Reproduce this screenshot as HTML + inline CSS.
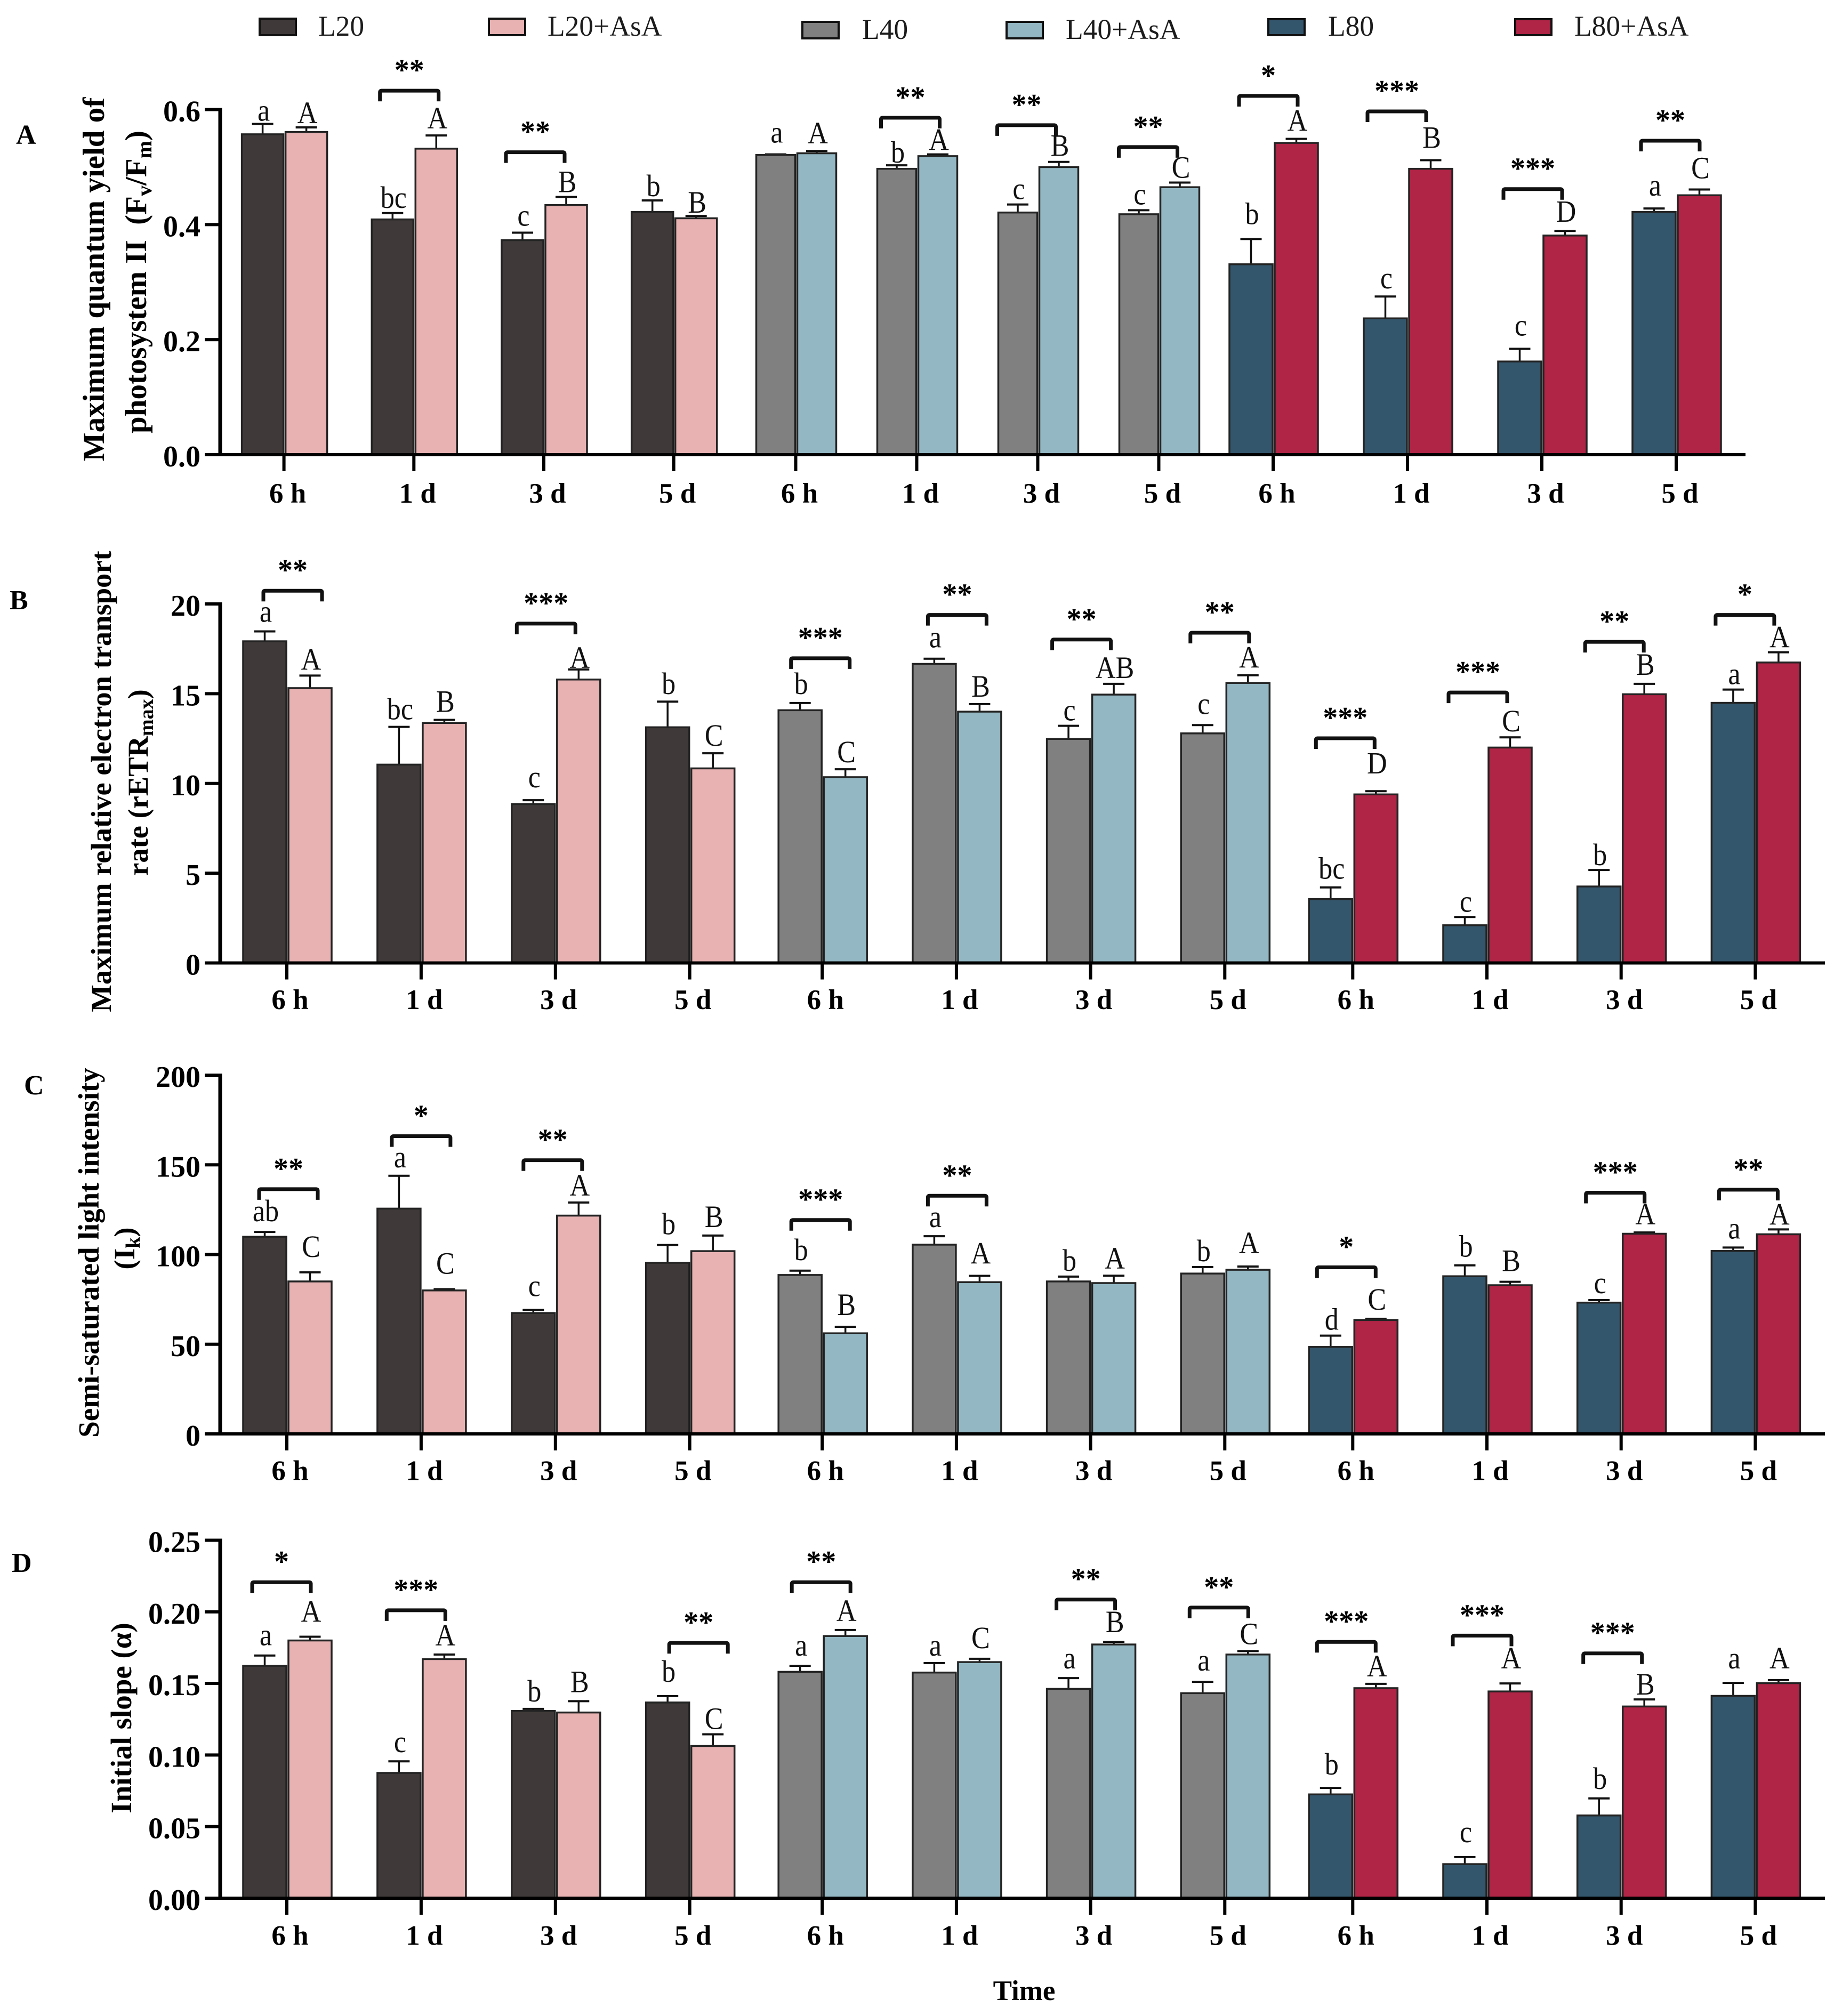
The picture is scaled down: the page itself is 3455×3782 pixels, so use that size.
<!DOCTYPE html>
<html lang="en">
<head>
<meta charset="utf-8">
<title>Photosynthetic parameters under light treatments with and without AsA</title>
<style>
  html, body { margin: 0; padding: 0; background: #fff; width: 3455px; height: 3782px; overflow: hidden; }
  svg { display: block; }
  text { font-family: "Liberation Serif", serif; fill: #000; }
  .b { font-weight: bold; }
  .title { font-weight: bold; text-anchor: middle; }
  .leg { font-size: 53.5px; fill: #1c1c1c; }
  .tick { font-weight: bold; font-size: 56px; text-anchor: end; }
  .cat { font-weight: bold; font-size: 53px; text-anchor: middle; }
  .let { font-size: 58px; text-anchor: middle; fill: #111; }
  .star { font-weight: bold; font-size: 56px; text-anchor: middle; }
</style>
</head>
<body>
<svg id="chart" xmlns="http://www.w3.org/2000/svg" width="3455" height="3782" viewBox="0 0 3455 3782">
  <rect x="0" y="0" width="3455" height="3782" fill="#ffffff"/>

  <g>
    <g>
      <rect x="487" y="35" width="68" height="31" fill="#3f3a39" stroke="#111" stroke-width="4"/>
      <text class="leg" x="597" y="67">L20</text>
    </g>
    <g>
      <rect x="917" y="35" width="68" height="31" fill="#e8b2b3" stroke="#111" stroke-width="4"/>
      <text class="leg" x="1027" y="67">L20+AsA</text>
    </g>
    <g>
      <rect x="1505" y="41" width="68" height="31" fill="#808080" stroke="#111" stroke-width="4"/>
      <text class="leg" x="1617" y="73">L40</text>
    </g>
    <g>
      <rect x="1888" y="41" width="68" height="31" fill="#93b8c4" stroke="#111" stroke-width="4"/>
      <text class="leg" x="1999" y="73">L40+AsA</text>
    </g>
    <g>
      <rect x="2379" y="36" width="68" height="30" fill="#34566c" stroke="#111" stroke-width="4"/>
      <text class="leg" x="2491" y="67">L80</text>
    </g>
    <g>
      <rect x="2842" y="36" width="68" height="30" fill="#b02446" stroke="#111" stroke-width="4"/>
      <text class="leg" x="2953" y="67">L80+AsA</text>
    </g>
  </g>

  <text class="b" font-size="52" x="30" y="270">A</text>
  <text class="b" font-size="52" x="18" y="1143">B</text>
  <text class="b" font-size="52" x="45" y="2053">C</text>
  <text class="b" font-size="52" x="22" y="2949">D</text>

  <text class="title" font-size="57" transform="translate(195 524) rotate(-90)">Maximum quantum yield of</text>
  <text class="title" font-size="57" transform="translate(274 529) rotate(-90)">photosystem II&#160;&#160;(F<tspan font-size="40" dy="10">v</tspan><tspan dy="-10">/F</tspan><tspan font-size="40" dy="10">m</tspan><tspan dy="-10">)</tspan></text>

  <text class="title" font-size="54.5" transform="translate(208 1466) rotate(-90)">Maximum relative electron transport</text>
  <text class="title" font-size="54.5" transform="translate(277 1468) rotate(-90)">rate (rETR<tspan font-size="38" dy="10">max</tspan><tspan dy="-10">)</tspan></text>

  <text class="title" font-size="55" transform="translate(185 2350) rotate(-90)">Semi-saturated light intensity</text>
  <text class="title" font-size="55" transform="translate(252 2342) rotate(-90)">(I<tspan font-size="38" dy="10">k</tspan><tspan dy="-10">)</tspan></text>

  <text class="title" font-size="55" transform="translate(246 3223) rotate(-90)">Initial slope (α)</text>

  <text class="title" font-size="53" x="1921" y="3752">Time</text>

  <g id="panels"></g>
</svg>

<script>
// ---------- shared categories ----------
const timeLabels = ['6 h', '1 d', '3 d', '5 d', '6 h', '1 d', '3 d', '5 d', '6 h', '1 d', '3 d', '5 d'];
const controlSeriesNames = ['L20', 'L20', 'L20', 'L20', 'L40', 'L40', 'L40', 'L40', 'L80', 'L80', 'L80', 'L80'];

// ---------- panel A: Fv/Fm ----------
const aTickLabels = ['0.0', '0.2', '0.4', '0.6'];
const aControl = [0.557, 0.409, 0.373, 0.422, 0.521, 0.497, 0.421, 0.418, 0.331, 0.237, 0.162, 0.422];
const aTreated = [0.561, 0.532, 0.434, 0.411, 0.524, 0.519, 0.500, 0.465, 0.542, 0.497, 0.381, 0.451];
const aControlErr = [0.018, 0.011, 0.013, 0.020, 0.001, 0.006, 0.014, 0.007, 0.044, 0.038, 0.022, 0.006];
const aTreatedErr = [0.008, 0.023, 0.014, 0.004, 0.004, 0.003, 0.009, 0.008, 0.007, 0.015, 0.008, 0.010];
const aControlLetters = ['a', 'bc', 'c', 'b', 'a', 'b', 'c', 'c', 'b', 'c', 'c', 'a'];
const aTreatedLetters = ['A', 'A', 'B', 'B', 'A', 'A', 'B', 'C', 'A', 'B', 'D', 'C'];
const aStars = [0, 2, 2, 0, 0, 2, 2, 2, 1, 3, 3, 2];
const aBracketLevels = [null, 0.636, 0.529, null, null, 0.589, 0.576, 0.538, 0.627, 0.600, 0.465, 0.549];

// ---------- panel B: rETRmax ----------
const bTickLabels = ['0', '5', '10', '15', '20'];
const bControl = [17.92, 11.05, 8.85, 13.13, 14.08, 16.66, 12.48, 12.79, 3.56, 2.10, 4.26, 14.49];
const bTreated = [15.31, 13.37, 15.79, 10.84, 10.35, 14.00, 14.95, 15.60, 9.39, 12.00, 14.97, 16.74];
const bControlErr = [0.55, 2.10, 0.22, 1.43, 0.40, 0.29, 0.73, 0.46, 0.65, 0.46, 0.92, 0.74];
const bTreatedErr = [0.70, 0.17, 0.56, 0.84, 0.44, 0.42, 0.60, 0.43, 0.18, 0.57, 0.58, 0.57];
const bControlLetters = ['a', 'bc', 'c', 'b', 'b', 'a', 'c', 'c', 'bc', 'c', 'b', 'a'];
const bTreatedLetters = ['A', 'B', 'A', 'C', 'C', 'B', 'AB', 'A', 'D', 'C', 'B', 'A'];
const bStars = [2, 0, 3, 0, 3, 2, 2, 2, 3, 3, 2, 1];
const bBracketLevels = [20.84, null, 19.01, null, 17.08, 19.49, 18.12, 18.50, 12.62, 15.17, 17.99, 19.49];

// ---------- panel C: Ik ----------
const cTickLabels = ['0', '50', '100', '150', '200'];
const cControl = [109.9, 125.6, 67.4, 95.4, 88.6, 105.5, 85.0, 89.4, 48.5, 87.9, 73.2, 102.0];
const cTreated = [85.0, 80.0, 121.7, 101.9, 56.1, 84.6, 84.1, 91.5, 63.5, 82.9, 111.6, 111.3];
const cControlErr = [2.7, 18.3, 1.7, 9.9, 2.4, 4.7, 2.7, 3.6, 6.3, 6.1, 1.4, 1.9];
const cTreatedErr = [5.1, 0.7, 7.3, 8.7, 3.6, 3.5, 4.1, 1.8, 0.7, 1.9, 0.7, 2.7];
const cControlLetters = ['ab', 'a', 'c', 'b', 'b', 'a', 'b', 'b', 'd', 'b', 'c', 'a'];
const cTreatedLetters = ['C', 'C', 'A', 'B', 'B', 'A', 'A', 'A', 'C', 'B', 'A', 'A'];
const cStars = [2, 1, 2, 0, 3, 2, 0, 0, 1, 0, 3, 2];
const cBracketLevels = [137.5, 167.0, 153.6, null, 120.3, 133.8, null, null, 93.9, null, 135.5, 137.2];

// ---------- panel D: initial slope ----------
const dTickLabels = ['0.00', '0.05', '0.10', '0.15', '0.20', '0.25'];
const dControl = [0.1623, 0.0875, 0.1308, 0.1367, 0.1581, 0.1576, 0.1462, 0.1432, 0.0725, 0.0238, 0.0578, 0.1413];
const dTreated = [0.1800, 0.1670, 0.1297, 0.1063, 0.1831, 0.1649, 0.1772, 0.1702, 0.1467, 0.1444, 0.1339, 0.1502];
const dControlErr = [0.0072, 0.0081, 0.0014, 0.0044, 0.0042, 0.0066, 0.0075, 0.0079, 0.0045, 0.0049, 0.0119, 0.0091];
const dTreatedErr = [0.0026, 0.0032, 0.0079, 0.0082, 0.0042, 0.0023, 0.0019, 0.0024, 0.0030, 0.0056, 0.0049, 0.0021];
const dControlLetters = ['a', 'c', 'b', 'b', 'a', 'a', 'a', 'a', 'b', 'c', 'b', 'a'];
const dTreatedLetters = ['A', 'A', 'B', 'C', 'A', 'C', 'B', 'C', 'A', 'A', 'B', 'A'];
const dStars = [1, 3, 0, 2, 2, 0, 2, 2, 3, 3, 3, 0];
const dBracketLevels = [0.2220, 0.2024, null, 0.1796, 0.2220, null, 0.2099, 0.2043, 0.1803, 0.1847, 0.1723, null];

// ---------- layout (not data) ----------
const controlColors = ['#3f3a39', '#808080', '#34566c'];
const treatedColors = ['#e8b2b3', '#93b8c4', '#b02446'];
const wideSegments = [
  { start: 538, step: 251.9, width: 81 },
  { start: 1542.2, step: 251.7, width: 81 },
  { start: 2537.3, step: 251.7, width: 81 }
];
const panels = [
  { id: 'a', y0: 853, yTop: 205.5, axisEnd: 3274, catDy: 90, catDx: 7,
    segments: [
      { start: 532.6, step: 243.7, width: 78 },
      { start: 1492.5, step: 227, width: 73 },
      { start: 2388, step: 252, width: 81 }
    ],
    ticks: aTickLabels, control: aControl, treated: aTreated, controlErr: aControlErr, treatedErr: aTreatedErr,
    controlLetters: aControlLetters, treatedLetters: aTreatedLetters, stars: aStars, levels: aBracketLevels,
    controlGap: [6, 10, 13, 8, 22, 5, 10, 11, 28, 15, 25, 24],
    treatedGap: [8, 13, 9, 6, 14, 8, 11, 9, 15, 23, 17, 21],
    bracketShift: [0, -8.6, -16, 0, 0, -12, -21, -20, -9, -20, -17, -11] },
  { id: 'b', y0: 1806.5, yTop: 1133, axisEnd: 3423, catDy: 86.5, catDx: 6,
    segments: wideSegments,
    ticks: bTickLabels, control: bControl, treated: bTreated, controlErr: bControlErr, treatedErr: bTreatedErr,
    controlLetters: bControlLetters, treatedLetters: bTreatedLetters, stars: bStars, levels: bBracketLevels,
    controlGap: [18, 14, 24, 14, 17, 21, 10, 21, 16, 10, 9, 10],
    treatedGap: [11, 15, 3, 14, 13, 14, 11, 14, 33, 11, 17, 9],
    bracketShift: [11, 0, -17.5, 0, -3.5, 1.5, -17, -9.5, -14, -17, -12.5, -19.5] },
  { id: 'c', y0: 2690, yTop: 2017, axisEnd: 3423, catDy: 86.6, catDx: 6,
    segments: wideSegments,
    ticks: cTickLabels, control: cControl, treated: cTreated, controlErr: cControlErr, treatedErr: cTreatedErr,
    controlLetters: cControlLetters, treatedLetters: cTreatedLetters, stars: cStars, levels: cBracketLevels,
    controlGap: [20, 16, 26, 20, 20, 17, 11, 11, 11, 16, 13, 17],
    treatedGap: [29, 29, 13, 16, 22, 23, 13, 25, 17, 20, 15, 9],
    bracketShift: [3, 0, -5, 0, -3, 1.5, 0, 0, -12, 0, -11, -13] },
  { id: 'd', y0: 3561, yTop: 2889.5, axisEnd: 3423, catDy: 87.5, catDx: 6,
    segments: wideSegments,
    ticks: dTickLabels, control: dControl, treated: dTreated, controlErr: dControlErr, treatedErr: dTreatedErr,
    controlLetters: dControlLetters, treatedLetters: dTreatedLetters, stars: dStars, levels: dBracketLevels,
    controlGap: [19, 17, 14, 27, 19, 14, 18, 21, 25, 28, 18, 27],
    treatedGap: [28, 17, 17, 10, 17, 20, 18, 13, 14, 28, 9, 22],
    bracketShift: [-10, -9.6, 0, 16.5, -2, 0, -9, -11, -12, -9, -16, 0] }
];

const AXIS_X = 413;
const SVG_NS = 'http://www.w3.org/2000/svg';
const root = document.getElementById('panels');

function add(parent, tag, attrs, text) {
  const el = document.createElementNS(SVG_NS, tag);
  for (const k in attrs) el.setAttribute(k, attrs[k]);
  if (text !== undefined) el.textContent = text;
  parent.appendChild(el);
  return el;
}

function slug(s) {
  return String(s).toLowerCase().replace(/[^a-z0-9]+/g, '-');
}

panels.forEach(function (p) {
  const maxVal = parseFloat(p.ticks[p.ticks.length - 1]);
  const yScale = function (v) { return p.y0 - (v / maxVal) * (p.y0 - p.yTop); };
  const seg = function (i) { return p.segments[Math.floor(i / 4)]; };
  const xTick = function (i) { return seg(i).start + (i % 4) * seg(i).step; };

  const g = add(root, 'g', {});
  
  

  timeLabels.forEach(function (cat, i) {
    const tx = xTick(i);
    const w = seg(i).width;
    const colorIdx = Math.floor(i / 4);
    const series = controlSeriesNames[i];

    [
      { kind: 'control', val: p.control[i], err: p.controlErr[i], letter: p.controlLetters[i], gap: p.controlGap[i],
        x: tx - w - 1, fill: controlColors[colorIdx], name: series },
      { kind: 'treated', val: p.treated[i], err: p.treatedErr[i], letter: p.treatedLetters[i], gap: p.treatedGap[i],
        x: tx + 3, fill: treatedColors[colorIdx], name: series + '-asa' }
    ].forEach(function (s) {
      const cx = s.x + w / 2;
      const top = yScale(s.val);
      const capY = yScale(s.val + s.err);
      const key = p.id + '-' + slug(s.name) + '-' + (i % 4 + 1);

      const stem = add(g, 'line', { x1: cx, x2: cx, y1: top, y2: capY, stroke: '#111', 'stroke-width': 3.5 });
      
      

      const cap = add(g, 'line', { x1: cx - 20, x2: cx + 20, y1: capY, y2: capY, stroke: '#111', 'stroke-width': 4 });
      
      

      const bar = add(g, 'rect', { x: s.x, y: top, width: w, height: p.y0 - top, fill: s.fill, stroke: '#232323', 'stroke-width': 3.5 });
      
      

      const lx = cx + 2;
      const ly = capY - s.gap;
      const letter = add(g, 'text', { class: 'let', transform: 'translate(' + lx + ' ' + ly + ') scale(0.9 1)' }, s.letter);
      
      
    });

    if (p.levels[i] !== null) {
      const by = yScale(p.levels[i]) + 3.5;
      const bc = tx + p.bracketShift[i];
      const bracket = add(g, 'path', {
        d: 'M' + (bc - 55) + ' ' + (by + 20) + ' V' + (by + 3) + ' Q' + (bc - 55) + ' ' + by + ' ' + (bc - 52) + ' ' + by +
           ' H' + (bc + 52) + ' Q' + (bc + 55) + ' ' + by + ' ' + (bc + 55) + ' ' + (by + 3) + ' V' + (by + 20),
        fill: 'none', stroke: '#111', 'stroke-width': 7
      });
      
      

      const star = add(g, 'text', { class: 'star', x: bc, y: by - 20 }, '*'.repeat(p.stars[i]));
      
      
    }

    const xt = add(g, 'rect', { x: tx - 3, y: p.y0, width: 6, height: 31, fill: '#000' });
    
    

    const catText = add(g, 'text', { class: 'cat', x: tx + p.catDx, y: p.y0 + p.catDy }, cat);
    
    
  });

  const xAxis = add(g, 'rect', { x: AXIS_X - 29, y: p.y0 - 3, width: p.axisEnd - AXIS_X + 29, height: 6, fill: '#000' });
  
  

  const yAxis = add(g, 'rect', { x: AXIS_X - 3.5, y: p.yTop - 3, width: 7, height: p.y0 - p.yTop + 6, fill: '#000' });
  
  

  p.ticks.forEach(function (label) {
    const ty = yScale(parseFloat(label));
    const mark = add(g, 'rect', { x: AXIS_X - 29, y: ty - 3, width: 29, height: 6, fill: '#000' });
    
    

    const t = add(g, 'text', { class: 'tick', x: 376, y: ty + 22 }, label);
    
    
  });
});
</script>
</body>
</html>
